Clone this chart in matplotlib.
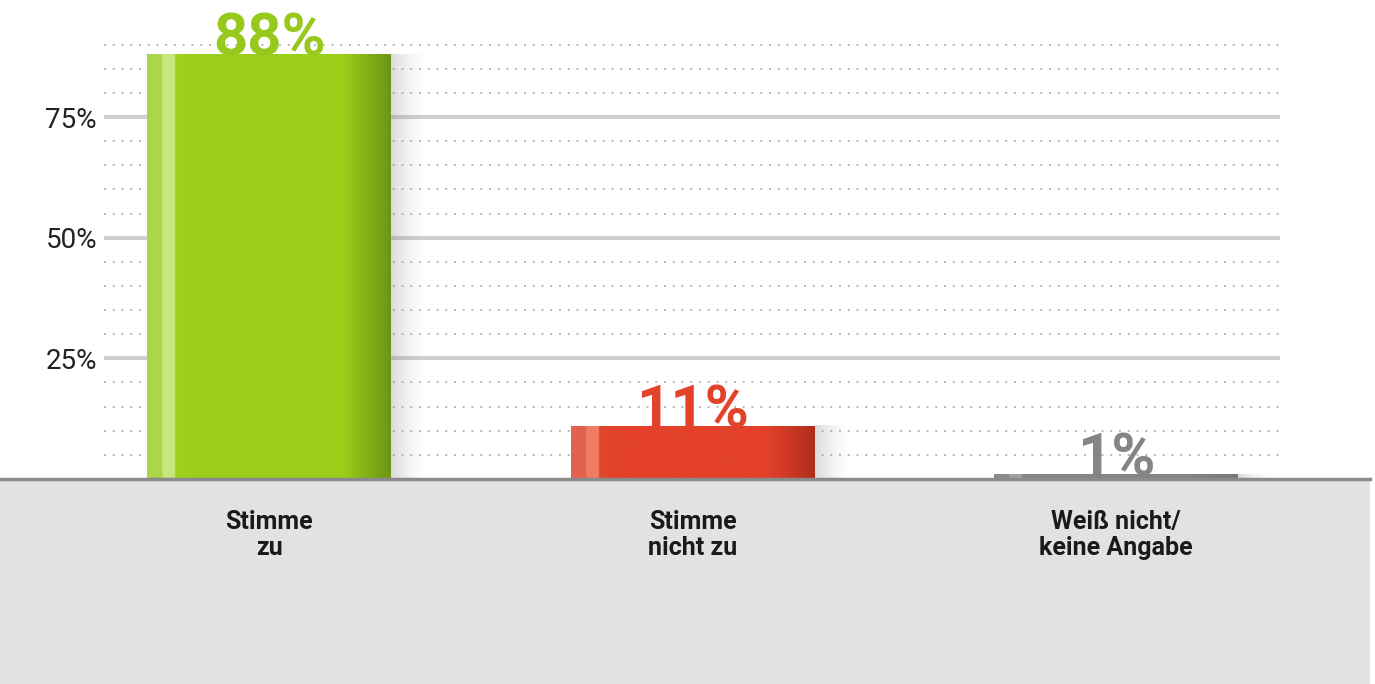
import numpy as np
import matplotlib
matplotlib.use("Agg")
import matplotlib.pyplot as plt
from matplotlib.colors import LinearSegmentedColormap
from matplotlib.patches import Rectangle
from matplotlib.lines import Line2D

plt.rcParams['font.family'] = ['Roboto', 'DejaVu Sans']

# data
categories = ['Stimme\nzu', 'Stimme\nnicht zu', 'Weiß nicht/\nkeine Angabe']
values = [88, 11, 1]
labels = ['88%', '11%', '1%']
label_colors = ['#97C91C', '#E3432B', '#858585']
yticks = [25, 50, 75]
ytick_labels = ['25%', '50%', '75%']

# gradient stops per bar: (pos, colour)
bar_stops = [
    [(0, '#A9D64A'), (0.06, '#A9D64A'), (0.061, '#C9E67E'), (0.11, '#C9E67E'),
     (0.111, '#A0D120'), (0.2, '#9BCF1A'), (0.8, '#9BCF1A'), (0.9, '#86B217'),
     (1, '#6C9614')],
    [(0, '#E26150'), (0.06, '#E26150'), (0.061, '#F17C62'), (0.11, '#F17C62'),
     (0.111, '#E2462D'), (0.2, '#E3412A'), (0.8, '#E3412A'), (0.9, '#CC3823'),
     (1, '#B02E1C')],
    [(0, '#8C8C8C'), (0.06, '#8C8C8C'), (0.061, '#A0A0A0'), (0.11, '#A0A0A0'),
     (0.111, '#858585'), (0.8, '#858585'), (1, '#777777')],
]

fig = plt.figure(figsize=(13.75, 6.84), dpi=100)
W, H = 1375, 684

# grey panel and baseline
fig.patches.append(Rectangle((0, 0), 1370 / W, 203 / H, transform=fig.transFigure,
                             facecolor='#E2E2E2', edgecolor='none', zorder=0))
fig.lines.append(Line2D([0, 1370 / W], [205 / H, 205 / H], transform=fig.transFigure,
                        color='#8A8A8A', linewidth=2.5, zorder=5))

ax = fig.add_axes([104 / W, 205 / H, (1280 - 104) / W, 444 / H])
x = np.arange(len(values))
width = 0.576

# minor dotted gridlines
for v in range(5, 95, 5):
    if v in yticks:
        continue
    ax.axhline(v, color='#B8B8B8', linewidth=1.4, linestyle=(0, (1, 3.5)), zorder=1)
for v in yticks:
    ax.axhline(v, color='#CFCFCF', linewidth=3, zorder=1)

bars = ax.bar(x, values, width=width, color='none', edgecolor='none', zorder=4)

for bar, stops in zip(bars, bar_stops):
    x0, w, h = bar.get_x(), bar.get_width(), bar.get_height()
    # soft shadow to the right
    sh = np.zeros((1, 64, 4))
    sh[..., :3] = 0.5
    sh[0, :, 3] = np.linspace(0.5, 0, 64) ** 1.8
    ax.imshow(sh, extent=[x0 + w, x0 + w + 0.09, 0, h], aspect='auto', zorder=2,
              interpolation='bilinear')
    cmap = LinearSegmentedColormap.from_list('g', stops)
    grad = cmap(np.linspace(0, 1, 400))[None, :, :]
    im = ax.imshow(grad, extent=[x0, x0 + w, 0, h], aspect='auto', zorder=3,
                   interpolation='bilinear')
    im.set_clip_path(bar)

for xi, v, lab, c in zip(x, values, labels, label_colors):
    ax.text(xi, v - 0.3, lab, ha='center', va='baseline', fontsize=43,
            fontweight='bold', color=c, zorder=6, clip_on=False)

ax.set_xlim(-0.39, 2.387)
ax.set_ylim(0, 92)
ax.set_yticks(yticks)
ax.set_yticklabels(ytick_labels, fontsize=20, color='#222222')
ax.tick_params(axis='y', length=0, pad=5)
ax.set_xticks([])
for s in ax.spines.values():
    s.set_visible(False)
ax.patch.set_alpha(0)

for xi, cat in zip(x, categories):
    xf = (104 + (xi + 0.39) * 423.5) / W
    fig.text(xf, (684 - 535) / H, cat, ha='center', va='center', fontsize=18,
             fontweight='bold', color='#1A1A1A', linespacing=1.15)

fig.savefig('out.png', dpi=100)
